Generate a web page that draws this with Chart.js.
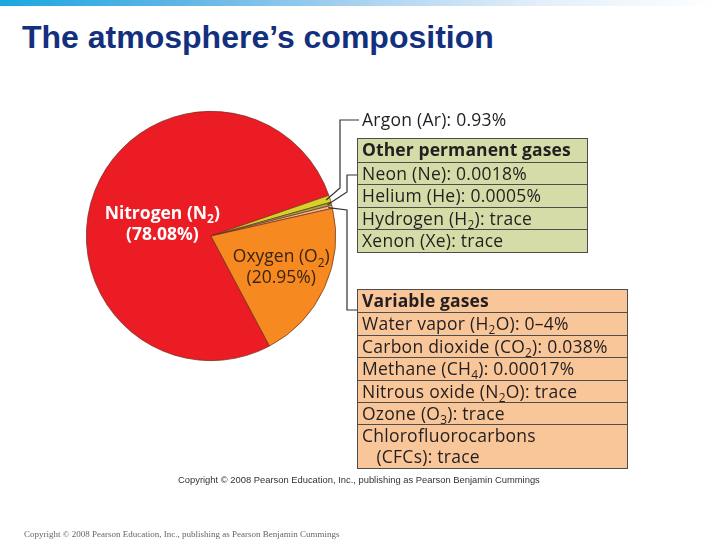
<!DOCTYPE html>
<html>
<head>
<meta charset="utf-8">
<script src="https://cdn.jsdelivr.net/npm/chart.js@4.4.1/dist/chart.umd.min.js"></script>
<style>
  html, body { margin: 0; padding: 0; background: #fff; }
  #stage { position: relative; width: 720px; height: 540px; overflow: hidden; }
  #topbar { position: absolute; left: 0; top: 0; width: 720px; height: 6px;
    background: linear-gradient(to right, #1aa8df 0%, #5fb5e6 25%, #a9d2f1 50%, #e3eff9 75%, #ffffff 100%); }
  #title { position: absolute; left: 22px; top: 21px; margin: 0; font: bold 32px 'Liberation Sans', Arial, sans-serif;
    color: #12307e; line-height: 32px; white-space: nowrap; }
  canvas { position: absolute; left: 0; top: 0; }
  .gas { font-family: 'Open Sans', sans-serif; font-size: 17.5px; letter-spacing: 0.25px; color: #231f20; }
  .gas sub { font-size: 0.68em; vertical-align: -0.3em; line-height: 0; }
  #argon { position: absolute; left: 362px; top: 107px; white-space: nowrap; }
  .tbl { position: absolute; border: 1.5px solid #4d4d4d; box-sizing: border-box; }
  .tbl div { box-sizing: border-box; border-top: 1.5px solid #4d4d4d; padding-left: 4px; white-space: nowrap; line-height: 21px; }
  .tbl div:first-child { border-top: none; font-weight: bold; letter-spacing: 0.1px; }
  #perm { left: 357px; top: 138px; width: 231px; background: #d6dca8; }
  #perm div { height: 22.6px; }
  #vari { left: 357px; top: 289px; width: 271px; background: #f8c699; }
  #vari div { height: 22.4px; }
  #vari div.tall { height: 44px; line-height: 21px; }
  #credit { position: absolute; left: 178px; top: 474px; font: 9.4px 'Liberation Sans', Arial, sans-serif; color: #333; white-space: nowrap; }
  #footer { position: absolute; left: 24px; top: 529px; font: 9px 'Liberation Serif', 'Times New Roman', serif; color: #666; white-space: nowrap; }
</style>
</head>
<body>
<div id="stage">
  <div id="topbar"></div>
  <h1 id="title">The atmosphere’s composition</h1>
  <canvas id="pie" width="720" height="540"></canvas>
  <div id="argon" class="gas"></div>
  <div id="perm" class="tbl gas"></div>
  <div id="vari" class="tbl gas"></div>
  <div id="credit">Copyright © 2008 Pearson Education, Inc., publishing as Pearson Benjamin Cummings</div>
  <div id="footer">Copyright © 2008 Pearson Education, Inc., publishing as Pearson Benjamin Cummings</div>
</div>
<script>
// slices, clockwise from the nitrogen slice
const sliceNames   = ['Nitrogen (N_2)', 'Argon (Ar)', 'Other permanent gases', 'Variable gases', 'Oxygen (O_2)'];
const sliceValues  = [78.08, 0.93, 0.4, 0.4, 20.95];
const slicePercent = ['(78.08%)', '', '', '', '(20.95%)'];
const sliceColors  = ['#ec1c24', '#d8d12b', '#9aab3b', '#f5b88c', '#f6891f'];

const argonLabel     = 'Argon (Ar): 0.93%';
const permanentTitle = 'Other permanent gases';
const permanentGases = ['Neon (Ne): 0.0018%', 'Helium (He): 0.0005%', 'Hydrogen (H_2): trace', 'Xenon (Xe): trace'];
const variableTitle  = 'Variable gases';
const variableGases  = ['Water vapor (H_2O): 0–4%', 'Carbon dioxide (CO_2): 0.038%', 'Methane (CH_4): 0.00017%',
                        'Nitrous oxide (N_2O): trace', 'Ozone (O_3): trace', 'Chlorofluorocarbons|(CFCs): trace'];

// "_x" marks a one-character subscript
function toHTML(s) {
  return s.replace(/_(.)/g, '<sub>$1</sub>').replace('|', '<br>&nbsp;&nbsp;&nbsp;');
}

document.getElementById('argon').innerHTML = toHTML(argonLabel);
document.getElementById('perm').innerHTML =
  [permanentTitle, ...permanentGases].map(r => `<div>${toHTML(r)}</div>`).join('');
document.getElementById('vari').innerHTML =
  [variableTitle, ...variableGases].map(r => `<div class="${r.includes('|') ? 'tall' : ''}">${toHTML(r)}</div>`).join('');

// draw text with "_x" subscripts, centred on x
function drawRich(ctx, text, x, y, size, weight) {
  const parts = text.split(/(_.)/).filter(Boolean);
  const fontMain = `${weight} ${size}px 'Open Sans', sans-serif`;
  const fontSub  = `${weight} ${Math.round(size * 0.68)}px 'Open Sans', sans-serif`;
  let width = 0;
  parts.forEach(p => { ctx.font = p[0] === '_' ? fontSub : fontMain; width += ctx.measureText(p[0] === '_' ? p[1] : p).width; });
  let cx = x - width / 2;
  ctx.textAlign = 'left';
  ctx.textBaseline = 'alphabetic';
  parts.forEach(p => {
    const sub = p[0] === '_';
    ctx.font = sub ? fontSub : fontMain;
    const t = sub ? p[1] : p;
    ctx.fillText(t, cx, sub ? y + size * 0.25 : y);
    cx += ctx.measureText(t).width;
  });
}

// label placement per slice: radial factor, extra dy, colour, weight
const labelStyle = {
  0: { r: 0.42, dy: 5, color: '#ffffff', weight: 'bold' },
  4: { r: 0.62, dy: -3, color: '#3b2414', weight: 'normal' }
};
// leader elbows for the small slices
const leaders = {
  1: [[340, 188], [340, 120], [359, 120]],
  2: [[347, 192], [347, 175], [357, 175]],
  3: [[347, 210], [347, 310], [357, 310]]
};

const overlay = {
  id: 'overlay',
  afterDatasetsDraw(chart) {
    const ctx = chart.ctx;
    const arcs = chart.getDatasetMeta(0).data;
    ctx.save();
    arcs.forEach((arc, i) => {
      const { x, y, startAngle, endAngle, outerRadius } = arc.getProps(['x', 'y', 'startAngle', 'endAngle', 'outerRadius'], true);
      const mid = (startAngle + endAngle) / 2;
      if (labelStyle[i]) {
        const s = labelStyle[i];
        const lx = x + Math.cos(mid) * outerRadius * s.r;
        const ly = y + Math.sin(mid) * outerRadius * s.r + s.dy;
        ctx.fillStyle = s.color;
        drawRich(ctx, sliceNames[i], lx, ly - 3, 17.5, s.weight);
        drawRich(ctx, slicePercent[i], lx, ly + 18, 17.5, s.weight);
      }
      if (leaders[i]) {
        ctx.strokeStyle = '#333';
        ctx.lineWidth = 1.2;
        ctx.beginPath();
        ctx.moveTo(x + Math.cos(mid) * (outerRadius - 4), y + Math.sin(mid) * (outerRadius - 4));
        leaders[i].forEach(([px, py]) => ctx.lineTo(px, py));
        ctx.stroke();
      }
    });
    ctx.restore();
  }
};

new Chart(document.getElementById('pie'), {
  type: 'pie',
  data: {
    labels: sliceNames,
    datasets: [{
      data: sliceValues,
      backgroundColor: sliceColors,
      borderColor: '#6b2c1e',
      borderWidth: 0.7
    }]
  },
  options: {
    responsive: false,
    animation: false,
    rotation: 152,
    layout: { padding: { left: 86, right: 384, top: 111, bottom: 179 } },
    plugins: { legend: { display: false }, tooltip: { enabled: false } }
  },
  plugins: [overlay]
});
</script>
</body>
</html>
